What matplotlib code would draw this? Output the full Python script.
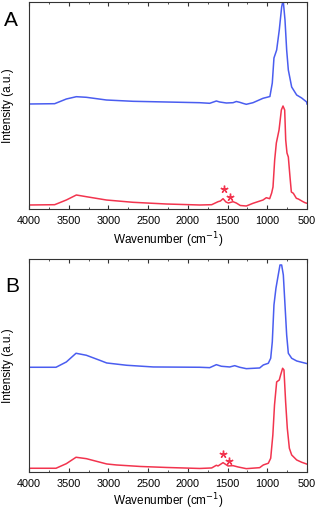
import matplotlib
matplotlib.use("Agg")
import matplotlib.pyplot as plt
import numpy as np

plt.rcParams['font.family'] = ['Liberation Sans', 'DejaVu Sans']

# Panel A, blue spectrum (wavenumber, intensity)
a_blue_x = [4000, 3677, 3530, 3404, 3278, 3026, 2691, 2271, 1851, 1725, 1641, 1599, 1515, 1431, 1390, 1347,
            1300, 1264, 1180, 1054, 990, 967, 937, 916, 882, 849, 819, 800, 777, 756, 735, 693,
            630, 567, 504, 500]
a_blue_y = [105, 105.3, 110, 112.3, 111.7, 109, 107.7, 107, 106.3, 105.7, 108, 107, 106, 106.3, 107.5, 106.7,
            105.5, 104.7, 106.3, 110.7, 112, 112.5, 126, 151, 159, 179, 202, 209, 189, 159, 139, 122,
            114, 111, 107, 105]
# Panel A, red spectrum
a_red_x = [4000, 3677, 3530, 3404, 3278, 3026, 2691, 2271, 1851, 1700, 1620, 1590, 1557, 1520, 1490, 1431,
           1390, 1340, 1264, 1180, 1054, 1012, 970, 945, 928, 907, 886, 852, 823, 802, 781, 768, 752,
           735, 714, 697, 672, 634, 609, 550, 525, 500]
a_red_y = [4, 4.3, 9, 14, 12.3, 9, 6.7, 5, 4, 4.3, 7.3, 8, 10.3, 7, 6, 7.3,
           6, 3.5, 3, 5.7, 9, 11.3, 10.3, 16, 22, 49, 66, 79, 99, 103, 99, 69, 56,
           52, 32, 17, 15.7, 10.7, 10, 7.3, 6.3, 5.7]
a_stars_x = [1551, 1465]
a_stars_y = [20, 12.3]

# Panel B, blue spectrum
b_blue_x = [4000, 3660, 3530, 3408, 3278, 3110, 3022, 2770, 2435, 1851, 1725, 1641, 1578, 1473, 1410, 1347,
            1264, 1096, 1050, 987, 957, 937, 916, 891, 862, 840, 819, 798, 777, 756, 735, 693,
            630, 567, 496]
b_blue_y = [104.7, 104.7, 110, 118.7, 116.7, 111.7, 109, 106.7, 105, 104.7, 104.3, 107.3, 105.7, 105, 106.3, 104.7,
            103.3, 104, 107, 108.7, 113.7, 130, 167, 183.7, 197, 207, 207, 197, 167, 137, 118.7, 113.7,
            111, 109.7, 108.3]
# Panel B, red spectrum
b_red_x = [4000, 3660, 3530, 3408, 3278, 3022, 2900, 2600, 2271, 1851, 1700, 1641, 1620, 1557, 1494, 1431,
           1368, 1264, 1096, 1050, 987, 957, 930, 909, 882, 849, 832, 807, 790, 769, 748, 722, 693,
           630, 567, 496]
b_red_y = [3.7, 3.7, 8.3, 14.7, 13.3, 8, 7, 5.5, 4.5, 3.5, 4, 6.7, 6, 9.3, 6, 6.3,
           5, 3.3, 4.3, 7, 8.7, 13.7, 37, 67, 90, 92, 97, 103.7, 102, 70, 43.7, 23.7, 17,
           12, 9.7, 7.7]
b_stars_x = [1560, 1477]
b_stars_y = [17.7, 11]

blue = '#4a5df0'
red = '#f2344e'
edge = '#333333'

fig = plt.figure(figsize=(3.18, 5.12), dpi=100)
axA = fig.add_axes([0.0912, 0.5918, 0.8742, 0.4043])
axB = fig.add_axes([0.0912, 0.0782, 0.8742, 0.4160])

panels = [
    (axA, a_blue_x, a_blue_y, a_red_x, a_red_y, a_stars_x, a_stars_y, 207, 'A', (11 / 318, 1 - 20 / 512), 3.5),
    (axB, b_blue_x, b_blue_y, b_red_x, b_red_y, b_stars_x, b_stars_y, 213, 'B', (12 / 318, 1 - 287 / 512), 1.5),
]
for ax, bx, by, rx, ry, sx, sy, top, lab, pos, lp in panels:
    ax.plot(bx, by, color=blue, lw=1.1)
    ax.plot(rx, ry, color=red, lw=1.1)
    ax.plot(sx, sy, linestyle='none', marker=(5, 2, 0), color=red, markersize=5.5, mew=1.0)
    ax.set_xlim(4000, 500)
    ax.set_ylim(0, top)
    ax.set_yticks([])
    ax.set_xticks([4000, 3500, 3000, 2500, 2000, 1500, 1000, 500])
    ax.set_xticks(np.arange(500, 4001, 250), minor=True)
    ax.tick_params(axis='x', which='both', direction='in', top=True, labelsize=7.8,
                   colors=edge, labelcolor='black', pad=5)
    ax.tick_params(axis='x', which='major', length=3)
    ax.tick_params(axis='x', which='minor', length=1.5)
    for s in ax.spines.values():
        s.set_color(edge)
        s.set_linewidth(0.8)
    ax.set_xlabel('Wavenumber (cm$^{-1}$)', fontsize=8.5, labelpad=lp)
    ax.set_ylabel('Intensity (a.u.)', fontsize=8.5, labelpad=11)
    fig.text(pos[0], pos[1], lab, fontsize=15, ha='center', va='center')

fig.savefig('out.png', dpi=100)
